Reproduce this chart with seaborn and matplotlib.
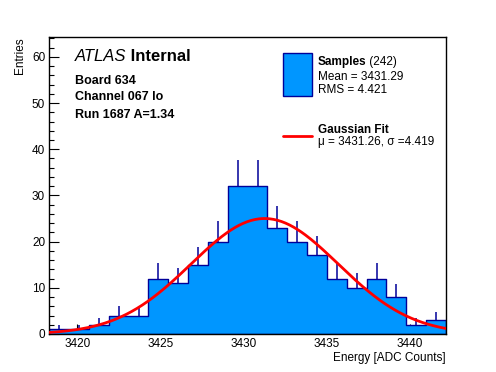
import numpy as np
import pandas as pd
import matplotlib
matplotlib.use("Agg")
import matplotlib.pyplot as plt
from matplotlib.patches import Rectangle
from matplotlib.lines import Line2D
from matplotlib.ticker import MultipleLocator
import seaborn as sns

# histogram: 20 equal bins between the axis limits
x_lo, x_hi = 3418.32, 3442.16
n_bins = 20
counts = [1, 1, 2, 4, 4, 12, 11, 15, 20, 32, 32, 23, 20, 17, 12, 10, 12, 8, 2, 3]

# gaussian fit parameters (from the legend)
fit_mu = 3431.26
fit_sigma = 4.419
fit_amp = 25.0

n_entries = 242
mean_val = 3431.29
rms_val = 4.421

FILL = "#0096FF"
EDGE = "#000099"

sns.set_style("white")
plt.rcParams["font.family"] = ["Liberation Sans", "DejaVu Sans"]
plt.rcParams["text.color"] = "black"
plt.rcParams["axes.labelcolor"] = "black"
plt.rcParams["xtick.color"] = "black"
plt.rcParams["ytick.color"] = "black"

W, H = 496, 372
fig = plt.figure(figsize=(W / 100, H / 100), dpi=100)
ax = fig.add_axes([49.3 / W, 1 - 334 / H, (446 - 49.3) / W, (334 - 37) / H])

edges = np.linspace(x_lo, x_hi, n_bins + 1)
centers = (edges[:-1] + edges[1:]) / 2
df = pd.DataFrame({"energy": centers, "n": counts})

sns.histplot(data=df, x="energy", weights="n", bins=list(edges), element="step",
             fill=True, color=FILL, alpha=1, edgecolor=EDGE, linewidth=1.0, ax=ax)

# upper half of the poisson error bars (lower half hidden by the fill)
cnt = np.array(counts, dtype=float)
ax.vlines(centers, cnt, cnt + np.sqrt(cnt), color=EDGE, lw=1.1, zorder=3)

# fit curve
xs = np.linspace(x_lo, x_hi, 300)
fit_df = pd.DataFrame({"x": xs,
                       "y": fit_amp * np.exp(-0.5 * ((xs - fit_mu) / fit_sigma) ** 2)})
sns.lineplot(data=fit_df, x="x", y="y", color="#FF0000", lw=2.0, ax=ax, zorder=4)

ax.set_xlim(x_lo, x_hi)
ax.set_ylim(0, 64.3)
ax.xaxis.set_major_locator(MultipleLocator(5))
ax.xaxis.set_minor_locator(MultipleLocator(1))
ax.yaxis.set_major_locator(MultipleLocator(10))
ax.yaxis.set_minor_locator(MultipleLocator(2))
ax.tick_params(which="both", direction="in", bottom=True, left=True, top=False, right=False,
               labelsize=8.5, color="black", labelcolor="black", width=0.8)
ax.tick_params(which="major", length=7, pad=3)
ax.tick_params(which="minor", length=3.5)
for s in ax.spines.values():
    s.set_color("black")
    s.set_linewidth(1.0)

ax.set_xlabel("Energy [ADC Counts]", loc="right", fontsize=8.5, labelpad=1)
ax.set_ylabel("Entries", loc="top", fontsize=8.5, labelpad=4)

# ATLAS label block
def fx(px):
    return px / W

def fy(py):
    return 1 - py / H

t = fig.text(fx(75), fy(61), "ATLAS", fontsize=12, style="italic", va="baseline")
ax.annotate(" Internal", xy=(1, 0), xycoords=t, fontsize=12, fontweight="bold",
            va="bottom", ha="left")
fig.text(fx(75), fy(83.5), "Board 634", fontsize=9, fontweight="bold", va="baseline")
fig.text(fx(75), fy(100.3), "Channel 067 lo", fontsize=9, fontweight="bold", va="baseline")
fig.text(fx(75), fy(117.5), "Run 1687 A=1.34", fontsize=9, fontweight="bold", va="baseline")

# legend drawn by hand (ROOT style)
fig.patches.append(Rectangle((fx(283.3), fy(96)), (311.7 - 283.3) / W, (96 - 53.3) / H,
                             transform=fig.transFigure, facecolor=FILL, edgecolor=EDGE,
                             lw=1.0))
fig.lines.append(Line2D([fx(283.3), fx(311.7)], [fy(136), fy(136)],
                        transform=fig.transFigure, color="#FF0000", lw=2.0))
ts = fig.text(fx(317.7), fy(65.3), "Samples", fontsize=8.5, fontweight="bold", va="baseline")
ax.annotate(f" ({n_entries})", xy=(1, 0), xycoords=ts, fontsize=8.5, va="bottom", ha="left")
fig.text(fx(317.7), fy(80), f"Mean = {mean_val:.2f}", fontsize=8.5, va="baseline")
fig.text(fx(317.7), fy(93.3), f"RMS = {rms_val:.3f}", fontsize=8.5, va="baseline")
fig.text(fx(317.7), fy(133.3), "Gaussian Fit", fontsize=8.5, fontweight="bold", va="baseline")
fig.text(fx(317.7), fy(145.5), f"\u03bc = {fit_mu:.2f}, \u03c3 ={fit_sigma:.3f}",
         fontsize=8.5, va="baseline")

fig.savefig("out.png", dpi=100)
